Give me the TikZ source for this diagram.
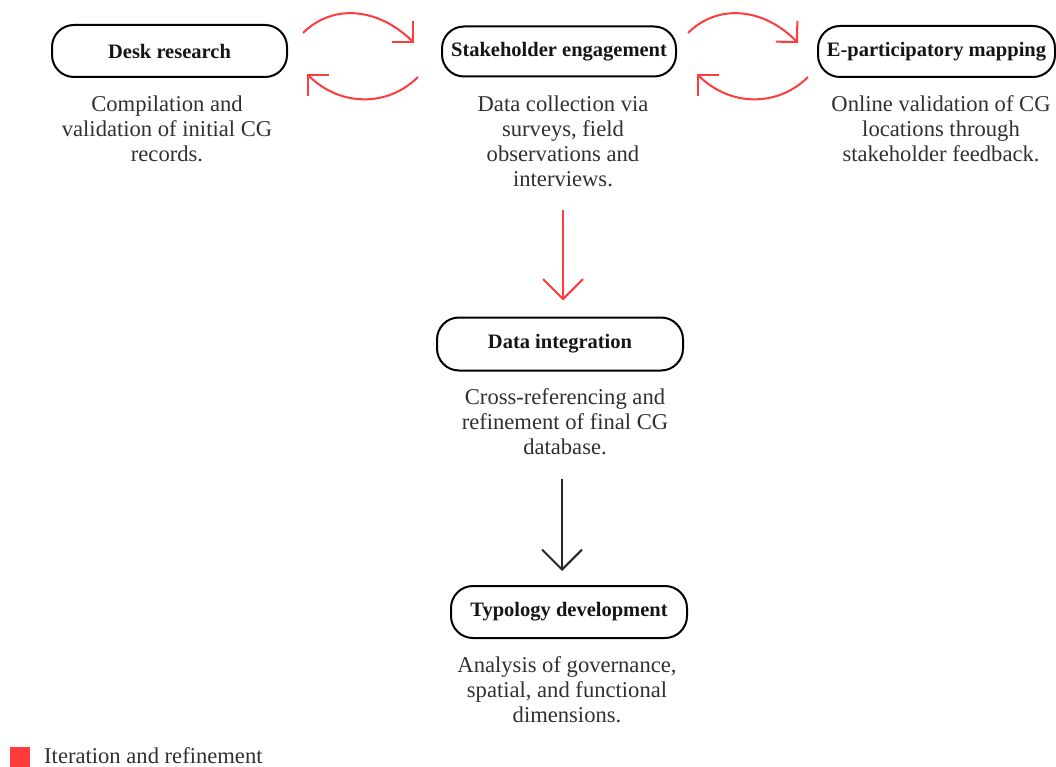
\documentclass[tikz,border=0pt]{standalone}
\usepackage{fontspec}
\setmainfont{Liberation Serif}
\usetikzlibrary{arrows.meta,calc}
\definecolor{iterred}{HTML}{FF3B3B}
\definecolor{boxtext}{HTML}{151515}
\definecolor{desctext}{HTML}{303030}
\begin{document}
\begin{tikzpicture}[x=1pt,y=-1pt,
  stagebox/.style={draw=black,line width=2pt,rounded corners=22pt,inner sep=0pt,
    text=boxtext,font=\fontsize{20.5}{23}\selectfont\bfseries},
  desc/.style={align=center,text=desctext,inner sep=0pt,
    font=\fontsize{22.6}{25}\selectfont},
  vtip/.style={-{Straight Barb[length=20pt,width=40pt,line width=2pt]}},
  ctip/.style={-{Straight Barb[length=15pt,width=30pt,line width=2pt]}},
  iterarrow/.style={draw=iterred,line width=2pt},
]
\useasboundingbox (0,0) rectangle (1056,767);

% stage boxes
\node[stagebox,minimum width=235pt,minimum height=52pt] (desk) at (169.5,51) {Desk research};
\node[stagebox,minimum width=234pt,minimum height=50pt] (stake) at (559,51.5) {Stakeholder engagement};
\node[stagebox,minimum width=237pt,minimum height=51pt] (epart) at (936.5,51.5) {E-participatory mapping};
\node[stagebox,minimum width=246pt,minimum height=53pt] (integ) at (560,344) {Data integration};
\node[stagebox,minimum width=236pt,minimum height=52pt] (typo) at (569,612) {Typology development};

% descriptions
\node[desc] (deskd) at (167,129) {Compilation and\\validation of initial CG\\records.};
\node[desc] (staked) at (563,141.5) {Data collection via\\surveys, field\\observations and\\interviews.};
\node[desc] (epartd) at (941,129) {Online validation of CG\\locations through\\stakeholder feedback.};
\node[desc] (integd) at (565,422) {Cross-referencing and\\refinement of final CG\\database.};
\node[desc] (typod) at (567,690) {Analysis of governance,\\spatial, and functional\\dimensions.};

% iteration arrows between desk research and stakeholder engagement
\coordinate (a1s) at (303,33);  \coordinate (a1e) at (414,43);
\coordinate (b1s) at (418,77);  \coordinate (b1e) at (307,74);
\draw[iterarrow,ctip] (a1s) .. controls (333,3) and (379,8) .. (a1e);
\draw[iterarrow,ctip] (b1s) .. controls (388,107) and (340,107) .. (b1e);

% iteration arrows between stakeholder engagement and e-participatory mapping
\coordinate (a2s) at (688,33);  \coordinate (a2e) at (798,43);
\coordinate (b2s) at (808,77);  \coordinate (b2e) at (697,74);
\draw[iterarrow,ctip] (a2s) .. controls (718,3) and (764,8) .. (a2e);
\draw[iterarrow,ctip] (b2s) .. controls (778,107) and (730,107) .. (b2e);

% vertical arrows
\coordinate (r1) at ($(staked.south)+(0,23)$);
\coordinate (r2) at ($(integd.south)+(-3,24)$);
\draw[iterarrow,vtip,shorten >=16pt] (r1) -- (r1 |- integ.north);
\draw[draw=black!85,line width=2pt,vtip,shorten >=14pt] (r2) -- (r2 |- typo.north);

% legend
\node[fill=iterred,minimum size=20pt,inner sep=0pt] (legbox) at (20,757) {};
\node[anchor=west,text=desctext,inner sep=0pt,font=\fontsize{22.6}{25}\selectfont] (legtext) at (44,756) {Iteration and refinement};
\end{tikzpicture}
\end{document}
